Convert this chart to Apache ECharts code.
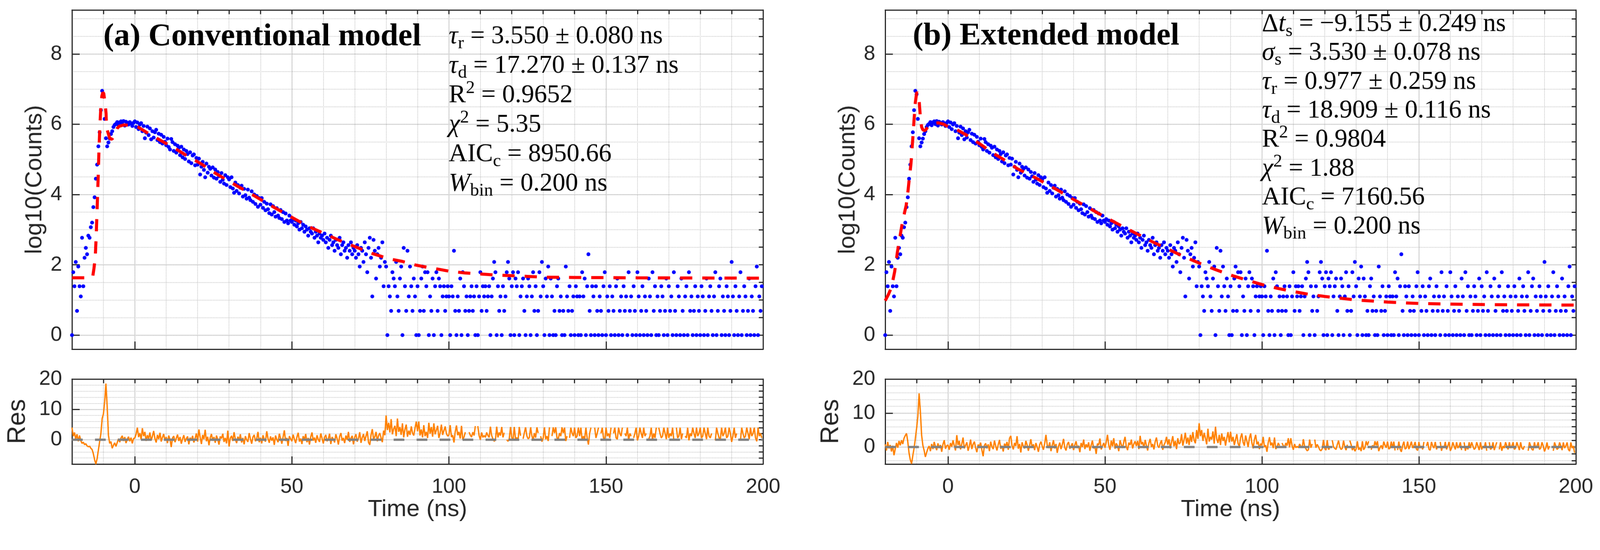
<!DOCTYPE html>
<html>
<head>
<meta charset="utf-8">
<title>Fluorescence decay fits</title>
<script src="https://cdn.jsdelivr.net/npm/echarts@6/dist/echarts.min.js"></script>
<style>
    html, body { margin: 0; padding: 0; background: #ffffff; overflow: hidden; }
    #wrap { width: 4179px; height: 1408px; transform-origin: 0 0; }
    #chart { width: 4179px; height: 1408px; }
</style>
</head>
<body>
<div id="wrap"><div id="chart"></div></div>
<script>
// histogram bins (ns): first bin and spacing of the plotted points
const binStart = -20;
const binStep = 0.4;

// plotted count values per bin (same measurement in both panels)
const logCounts = [
    0, 1.79, 1.39, 2.08, 0.69, 1.95, 1.39, 1.10, 2.77, 1.39, 2.20, 2.48, 2.30, 2.83, 2.77, 3.07, 3.20, 3.64, 3.92, 4.45, 4.85, 5.37, 5.77, 6.40, 6.95,
    6.85, 6.15, 5.60, 5.37, 5.48, 5.59, 5.72, 5.80, 5.92, 5.98, 6.01, 6.06, 5.97, 6.05, 6.08, 6.00, 6.09, 5.96, 6.07, 6.03, 5.99, 6.06, 6.02, 5.95, 6.04,
    6.08, 5.92, 6.05, 5.86, 5.99, 6.03, 5.80, 5.95, 5.60, 5.76, 5.93, 5.69, 5.88, 5.57, 5.80, 5.62, 5.77, 5.84, 5.55, 5.73, 5.49, 5.70, 5.45, 5.64, 5.50,
    5.40, 5.59, 5.35, 5.28, 5.58, 5.49, 5.24, 5.43, 5.19, 5.39, 5.33, 5.12, 5.36, 5.06, 5.28, 5.01, 5.24, 5.15, 4.94, 5.20, 4.89, 5.11, 5.14, 4.83, 5.04,
    4.85, 5.02, 4.57, 4.79, 4.93, 4.70, 4.49, 4.88, 4.62, 4.79, 4.73, 4.54, 4.77, 4.48, 4.71, 4.45, 4.64, 4.52, 4.36, 4.61, 4.42, 4.31, 4.55, 4.27, 4.49,
    4.43, 4.21, 4.49, 4.17, 4.05, 4.34, 4.10, 4.27, 4.03, 4.19, 4.25, 3.94, 4.16, 3.98, 3.88, 4.14, 3.91, 3.84, 4.09, 3.79, 4.00, 3.73, 3.96, 3.65, 3.90,
    3.71, 3.90, 3.62, 3.79, 3.55, 3.74, 3.58, 3.47, 3.72, 3.43, 3.67, 3.50, 3.37, 3.61, 3.40, 3.33, 3.56, 3.30, 3.50, 3.22, 3.46, 3.26, 3.18, 3.40, 3.26,
    3.22, 3.30, 3.14, 3.26, 3.09, 3.18, 3.00, 3.22, 3.04, 3.14, 2.94, 3.09, 3.00, 2.83, 3.04, 2.94, 2.89, 3.04, 2.77, 2.94, 2.83, 2.64, 2.89, 2.77, 2.83,
    2.71, 2.89, 2.64, 2.77, 2.48, 2.71, 2.83, 2.56, 2.64, 2.40, 2.71, 2.56, 2.48, 2.77, 2.30, 2.56, 2.64, 2.40, 2.48, 2.20, 2.56, 2.40, 2.64, 2.30, 2.48,
    2.40, 2.20, 2.56, 2.30, 1.95, 2.48, 2.40, 2.08, 2.64, 2.30, 1.79, 2.48, 2.77, 2.20, 1.10, 2.71, 2.40, 1.61, 2.30, 2.48, 1.95, 2.20, 2.64, 1.39, 2.08,
    1.95, 0, 1.39, 1.10, 0.69, 1.79, 1.61, 1.39, 2.08, 1.10, 0.69, 1.61, 1.95, 0, 2.48, 1.39, 0.69, 2.40, 1.10, 1.95, 1.39, 0.69, 1.61, 1.10, 0,
    1.39, 0, 0.69, 1.61, 1.95, 0.69, 1.79, 1.39, 1.79, 0, 1.10, 0.69, 1.61, 0, 1.39, 1.79, 0.69, 1.61, 1.39, 0, 1.10, 1.39, 0.69, 1.10, 1.39,
    1.10, 0, 1.39, 1.10, 2.40, 0.69, 0, 1.10, 0.69, 1.61, 0, 1.79, 1.39, 0.69, 1.10, 0, 0.69, 1.10, 1.39, 0.69, 1.10, 0, 1.39, 0, 1.10,
    1.79, 0.69, 1.39, 1.10, 1.39, 0.69, 1.10, 1.39, 0, 1.10, 1.61, 2.08, 1.79, 0, 1.39, 0.69, 1.10, 0, 1.39, 0.69, 1.10, 1.79, 2.08, 1.61, 0,
    1.39, 1.79, 0, 1.61, 1.39, 1.79, 0, 1.10, 1.39, 1.61, 0.69, 0, 1.10, 1.61, 1.39, 0, 1.10, 1.79, 0.69, 1.39, 0, 0.69, 1.79, 1.10, 2.08,
    1.39, 0, 1.61, 1.10, 1.95, 0, 1.61, 1.10, 0, 0.69, 0, 1.39, 1.61, 0.69, 1.10, 0, 0.69, 0, 1.95, 1.10, 0.69, 1.39, 0, 0.69, 1.10,
    0, 1.39, 1.10, 0, 1.10, 0, 1.79, 1.10, 1.61, 0, 1.39, 2.30, 0.69, 0, 1.39, 1.10, 0, 1.39, 0.69, 0, 1.10, 0.69, 0, 1.39, 1.79,
    0, 1.10, 0.69, 1.39, 0, 1.10, 0.69, 0, 1.39, 1.61, 0, 0.69, 1.10, 0, 1.39, 0.69, 1.10, 0, 1.79, 0.69, 1.10, 0, 1.39, 0.69, 0,
    1.79, 1.10, 0, 0.69, 1.39, 0, 1.10, 0.69, 0, 1.61, 1.10, 0, 1.79, 0.69, 1.39, 0, 1.10, 0, 0.69, 1.39, 1.10, 0, 0.69, 1.61, 0,
    1.39, 0.69, 1.10, 0, 1.79, 0.69, 0, 1.39, 1.10, 0, 1.61, 0.69, 0, 1.10, 1.39, 0, 1.79, 0.69, 1.10, 0, 0.69, 1.39, 0, 1.10, 0.69,
    0, 1.39, 1.10, 0, 0.69, 1.61, 0, 1.10, 1.39, 0.69, 0, 1.10, 1.79, 0, 0.69, 1.39, 1.61, 0, 1.10, 0.69, 0, 1.39, 1.10, 0, 0.69,
    2.08, 1.10, 0, 1.39, 0.69, 0, 1.10, 1.79, 0, 0.69, 1.39, 1.10, 0, 0.69, 1.61, 0, 1.10, 0.69, 0, 1.39, 1.95, 0, 1.10, 0.69, 1.39
];

// residuals per bin, null = empty bin (line broken there)
const residualA = [
    4.0, 1.2, 2.4, 0.2, 1.8, -0.5, 1.4, -0.3, -1.2, -0.8, -1.6, -1.3, -2.0, -2.3, -2.1, -2.8, -3.2, -4.6, -6.6, -8.0, -6.2, -3.4, -0.6, 2.0, 7.0,
    8.5, 12.5, 18.5, 11.0, 1.5, -1.2, -0.6, -2.8, -1.8, -1.0, -2.2, -0.9, 0.3, -0.8, 0.6, 1.3, -0.4, 0.9, -1.1, 0.2, 1.0, -0.5, 0.7, -1.2, 0.4,
    0.6, 1.8, 4.0, 0.9, 2.2, 0.1, 3.8, 1.2, 2.6, -0.4, 1.5, 0.3, 2.4, -0.2, 1.1, 2.9, 0.4, -0.9, 1.6, 0.2, 2.3, -0.6, 0.8, 1.9, -0.3,
    0.9, -1.1, 1.4, 0.1, -2.4, 0.6, 1.2, -0.8, 0.5, 1.7, -0.4, 0.9, -1.3, 0.3, 1.5, -0.7, 0.4, 1.1, -1.5, 0.7, -0.2, 1.3, -0.9, 0.5, 2.1,
    -0.6, 3.4, 0.8, -1.4, 1.6, 0.2, 3.3, -0.5, 1.0, -1.8, 0.7, 1.9, -0.3, 0.9, -1.0, 1.4, 0.1, -1.6, 1.1, 0.4, 2.0, -0.7, 0.6, -1.2, 3.0,
    -2.2, 0.5, 1.3, -0.4, 2.5, 0.2, -1.1, 1.0, -0.2, 1.8, -0.9, 0.6, -1.5, 1.2, 0.0, -0.7, 2.2, 0.3, -1.3, 0.9, 1.6, -0.5, 0.4, 2.6, -0.8,
    0.7, -1.2, 1.5, 0.2, -0.6, 2.8, 0.4, -1.0, 1.1, -0.3, 0.8, -1.7, 1.4, 0.1, -0.8, 2.0, 0.5, -1.3, 0.9, 3.1, -0.4, 0.6, -2.0, 1.2, 0.3,
    -0.5, 1.7, 0.2, -1.1, 0.9, 2.3, -0.6, 0.4, -1.4, 1.2, 0.0, 1.9, -0.8, 0.6, -1.6, 1.0, 2.4, -0.3, 0.7, -1.0, 1.5, 0.1, -0.7, 2.1, 0.5,
    -1.2, 0.8, 1.6, -0.5, 0.3, 2.0, -1.4, 0.9, 0.2, -0.9, 1.8, 0.4, -1.6, 1.1, 2.2, -0.3, 0.6, -1.1, 1.4, 0.0, 2.6, -0.7, 0.5, 1.3, -1.5,
    0.9, 1.8, -0.6, 0.4, 2.5, -1.0, 0.7, 1.9, -0.4, 1.2, 2.8, -0.9, -1.7, 1.6, 3.5, 0.2, 1.0, 2.6, -0.5, 1.4, 2.2, 0.6, -0.8, 3.0, 1.5,
    8.0, 3.2, 5.6, 2.4, 6.8, 1.8, 3.6, 4.6, 1.2, 7.0, 2.6, 4.2, 1.6, 5.4, 0.8, 3.4, 5.0, 1.0, 3.0, 1.6, 4.4, 2.2, 1.4, 3.8, 6.0,
    2.8, 6.0, 1.4, 3.4, 0.8, 4.8, 1.2, 2.6, 0.6, 5.6, 2.0, 4.2, 1.0, 5.4, 1.8, 3.2, 4.6, 0.6, 2.2, 5.0, 1.6, 3.0, 4.4, 2.0, 1.2,
    1.6, 4.8, 0.9, 1.5, -0.9, 2.6, 4.7, 1.5, 2.6, 0.4, 4.6, 0.1, 0.9, 2.5, null, null, 2.5, 1.5, 0.9, 2.5, 1.4, 4.5, null, 4.5, 1.4,
    0.0, 2.4, 0.8, 1.4, 0.8, 2.4, 1.4, 0.8, 4.3, 1.4, 0.3, -0.5, 0.0, 4.3, 0.8, 2.4, 1.4, 4.2, 0.8, 2.3, null, 0.0, -0.5, 0.3, 4.2,
    0.7, -0.1, 4.2, 0.3, 0.7, -0.1, 4.2, 1.3, null, 0.3, 2.3, 4.1, 1.3, 0.3, 0.7, 4.1, 1.3, -0.1, 2.2, 0.7, 4.1, 2.2, null, 1.2, -0.6,
    0.6, 4.1, 0.2, 1.2, -0.4, 4.1, null, 1.2, 4.1, 2.2, 4.1, 0.6, 0.2, 2.2, 1.2, 4.1, 2.2, 4.0, -0.4, 1.2, null, 0.6, 4.0, 2.2, 1.2,
    4.0, 0.6, 1.2, 4.0, 1.2, 4.0, -0.2, 1.2, 0.2, 4.0, 0.6, -1.6, 2.1, 4.0, null, null, 4.0, 0.6, 2.1, 4.0, null, 2.1, 4.0, 0.6, -0.2,
    4.0, 1.2, 2.1, 0.6, 4.0, null, 2.1, 4.0, 0.6, 0.2, 4.0, 2.1, 1.2, 4.0, null, 2.1, 1.2, 4.0, -0.2, 2.1, 1.2, null, 0.6, 2.1, 4.0,
    -0.2, 1.2, 4.0, 2.1, 0.6, 4.0, 1.2, 2.1, null, 0.2, 1.2, 4.0, -0.2, 2.1, 0.6, 4.0, null, 4.0, 2.1, 0.6, 1.2, 4.0, 2.1, 0.2, 4.0,
    0.6, 2.1, 1.2, 4.0, -0.2, null, 4.0, 0.6, 1.2, 4.0, 0.2, 2.1, null, 1.2, 0.6, 4.0, -0.2, 2.1, 1.2, 4.0, 2.1, 0.6, 4.0, 1.2, 2.1,
    4.0, 0.6, 1.2, 4.0, 2.1, 0.2, 4.0, 1.2, 0.6, 2.1, null, null, -0.2, 4.0, 2.1, 0.6, 0.2, 4.0, 1.2, 2.1, 4.0, 0.6, 1.2, 4.0, 2.1,
    -0.7, 1.2, 4.0, 0.6, 2.1, null, null, -0.2, 4.0, 2.1, 0.6, 1.2, 4.0, 2.1, 0.2, 4.0, 1.2, 2.1, 4.0, 0.6, -0.5, 4.0, 1.2, 2.1, 0.6
];

const residualB = [
    0.8, -1.0, 1.5, -0.4, 0.6, -1.3, 0.4, -2.4, -0.6, 1.2, -0.2, 1.8, 0.5, 2.0, 0.9, 2.6, 3.4, 4.0, 1.5, -1.8, -3.8, -4.9, -2.5, -0.3, 2.5,
    5.5, 9.0, 15.8, 10.5, 3.5, 0.5, -1.0, -2.9, -1.6, -0.4, 0.3, -1.2, 0.9, -0.6, 1.5, 0.2, -0.9, 1.1, -0.3, 0.6, -1.4, 0.8, 2.0, -0.5, 0.4,
    0.6, -0.8, 1.2, 0.1, 2.0, 0.4, -1.0, 3.5, 0.6, 1.8, -0.7, 0.9, 2.8, -0.4, 0.5, 1.4, -1.1, 0.3, 2.2, -0.6, 0.8, 1.6, -0.2, -1.5, 0.7,
    0.2, 1.3, -0.9, -2.7, 0.5, 1.1, -0.4, 0.8, -1.2, 1.6, 0.1, -0.6, 1.9, 0.3, -1.0, 0.7, 2.1, -0.5, 0.4, -1.3, 1.0, 0.2, 1.5, -0.8, 2.6,
    3.3, 0.4, -0.7, 1.2, 0.3, 3.2, -0.5, 0.9, -1.6, 1.4, 0.2, -0.4, 1.8, 0.6, -1.1, 0.5, 2.3, -0.2, 0.8, -0.9, 1.2, 0.0, -1.4, 0.7, 1.6,
    0.3, -0.8, 1.1, 3.6, 0.6, -0.3, 1.4, -1.2, 0.5, 2.0, -0.4, 0.9, -1.7, 0.2, 1.3, -0.6, 0.7, 2.4, -0.2, -1.0, 0.8, 1.5, -0.5, 0.3, 1.1,
    -0.9, 0.6, 1.7, -0.3, 0.4, -1.5, 1.2, 0.0, 2.2, -0.6, 0.8, -0.1, 1.4, -1.1, 0.5, 1.9, -0.4, 0.2, -2.0, 1.0, 0.6, 2.5, -0.7, 0.3, 1.2,
    -0.2, 1.4, 3.6, 0.5, -0.8, 1.9, 0.2, 2.6, -0.5, 1.1, 0.4, -1.2, 2.0, 0.7, -0.3, 1.5, 3.0, 0.1, -0.9, 1.3, 0.6, 2.2, -0.4, 0.9, 1.7,
    0.3, 1.8, -0.6, 3.3, 0.8, 1.5, -0.3, 2.1, 0.5, -1.0, 1.2, 2.4, 0.0, 0.9, -0.7, 1.6, 2.8, 0.4, -0.2, 1.1, 2.0, -0.8, 0.6, 1.4, 3.0,
    0.7, 2.3, -0.4, 1.5, 3.2, 0.2, 1.8, -0.6, 2.6, 0.9, 1.3, 3.8, 0.4, 2.1, 4.2, 1.0, 2.8, 0.6, 3.6, 1.5, 4.4, 2.0, 1.1, 5.0, 2.4,
    7.0, 3.2, 5.0, 1.8, 4.2, 2.6, 0.8, 5.4, 1.6, 3.0, 2.2, 4.6, 1.0, 6.0, 2.4, 1.2, 3.6, 0.6, 4.0, 1.8, 3.0, 0.4, 2.6, 4.4, 1.4,
    4.5, 1.6, 3.0, 0.6, 2.2, 3.8, 1.0, 0.2, 2.8, 4.0, 1.4, 0.4, 3.4, 1.8, 0.0, 2.6, 4.0, 1.2, -0.4, 2.2, 3.6, 0.8, 1.6, -0.6, 1.0,
    0.5, 3.0, 0.0, 0.5, -1.4, 1.3, 2.9, 0.5, 1.3, -0.3, 2.8, -0.6, 0.0, 1.2, 0.4, null, 1.2, 0.4, -0.1, 1.2, 0.4, 2.6, -0.1, 2.6, 0.4,
    -0.8, 0.9, -0.2, 0.2, -0.2, 0.9, 0.2, -0.2, 2.3, 0.2, -0.5, -1.1, -0.8, 2.2, -0.2, 0.9, null, 2.2, -0.2, 0.8, 0.1, -0.8, -1.1, -0.5, 2.1,
    -0.4, -0.9, 2.0, -0.7, -0.4, null, 2.0, 0.0, -0.4, -0.7, 0.7, 1.9, 0.0, -0.7, -0.4, 1.9, 0.0, -0.9, 0.7, null, 1.9, 0.7, -0.9, 0.0, -1.2,
    -0.6, 1.7, -0.8, -0.2, -1.2, 1.7, -0.8, -0.2, 1.7, 0.5, 1.7, null, -0.8, 0.5, -0.2, 1.7, 0.5, 1.7, -1.2, -0.2, 0.5, -0.6, 1.6, 0.5, -0.2,
    1.6, -0.6, -0.3, 1.6, -0.3, 1.6, -1.0, null, -0.9, 1.6, -0.6, -1.4, 0.4, 1.6, -0.6, -0.3, 1.6, -0.6, 0.4, 1.6, -0.3, 0.4, 1.5, -0.6, -1.0,
    1.5, -0.3, 0.3, -0.7, 1.5, null, 0.3, 1.5, -0.7, -0.9, 1.5, 0.3, -0.3, 1.5, -0.7, 0.3, null, 1.5, -1.1, 0.3, -0.3, 1.5, -0.7, 0.3, 1.5,
    -1.1, -0.3, 1.4, 0.3, -0.7, 1.4, -0.3, 0.3, 1.4, -0.9, null, 1.4, -1.1, 0.3, -0.7, 1.4, -0.3, 1.4, 0.3, -0.7, -0.3, 1.4, 0.3, -0.9, 1.4,
    -0.7, 0.3, -0.3, 1.4, -1.1, null, 1.4, -0.7, -0.3, 1.4, -0.9, 0.3, 1.4, null, -0.7, 1.4, -1.1, 0.3, -0.3, 1.4, 0.3, -0.7, 1.4, -0.3, 0.3,
    1.4, -0.7, -0.3, 1.4, 0.3, -0.9, 1.4, -0.3, -0.7, 0.3, null, null, -1.1, 1.4, 0.3, -0.7, -0.9, 1.4, -0.3, 0.3, 1.4, -0.7, -0.3, 1.4, 0.3,
    -1.3, -0.3, 1.35, -0.7, 0.3, null, null, -1.1, 1.35, 0.3, -0.7, -0.3, 1.35, 0.3, -0.9, 1.35, -0.3, 0.3, 1.35, -0.7, -1.2, 1.35, -0.3, 0.3, -1.7
];

// fitted curves, [time ns, value]
const fitA = [
    [-20, 1.63], [-14, 1.63], [-13.4, 1.66], [-13.0, 1.9], [-12.6, 2.2], [-12.3, 2.8], [-12.0, 3.6], [-11.7, 4.4],
    [-11.4, 5.3], [-11.1, 6.0], [-10.8, 6.5], [-10.5, 6.8], [-10.2, 6.9], [-9.9, 6.88], [-9.5, 6.62], [-9.15, 6.3],
    [-9.0, 5.9], [-8.0, 5.6], [-7.3, 5.57], [-6.5, 5.68], [-5.6, 5.88], [-5, 5.94], [-3.5, 5.98], [-2, 5.97],
    [0, 5.95], [1, 5.92], [4.6, 5.72], [9, 5.5], [12.8, 5.31], [17, 5.08], [21, 4.88], [25, 4.64], [29, 4.43],
    [33, 4.22], [37, 4.02], [40, 3.86], [45, 3.6], [50, 3.35], [55, 3.1], [60, 2.9], [65, 2.7], [70, 2.52],
    [76, 2.31], [81, 2.17], [85, 2.1], [89, 2.0], [93, 1.93], [97, 1.87], [100, 1.82], [105, 1.77], [110, 1.74],
    [115, 1.71], [120, 1.69], [125, 1.67], [130, 1.65], [140, 1.64], [160, 1.63], [200, 1.62]
];

const fitB = [
    [-20, 0.98], [-19, 1.15], [-18, 1.36], [-17, 1.8], [-16.1, 2.37], [-15.3, 2.8], [-14.5, 3.22], [-13.3, 3.7],
    [-12.8, 4.05], [-12.4, 4.39], [-11.8, 4.87], [-11.2, 5.61], [-10.8, 6.14], [-10.4, 6.62], [-10.0, 6.88],
    [-9.8, 6.91], [-9.5, 6.85], [-9.2, 6.68], [-8.8, 6.2], [-8.4, 5.92], [-8.0, 5.84], [-7.3, 5.82], [-6.3, 5.93],
    [-4.7, 6.01], [-3.1, 6.04], [-1.4, 6.0], [0, 5.93], [2.7, 5.85], [5.9, 5.69], [10, 5.45], [14.1, 5.19],
    [18.2, 4.97], [22.2, 4.73], [28, 4.47], [30, 4.37], [35, 4.12], [40, 3.86], [45, 3.61], [50, 3.36], [55, 3.12],
    [60, 2.89], [65, 2.66], [70, 2.45], [75, 2.24], [80, 2.05], [85, 1.87], [90, 1.71], [95, 1.57], [100, 1.44],
    [105, 1.33], [110, 1.24], [115, 1.16], [120, 1.10], [130, 1.0], [140, 0.94], [150, 0.9], [165, 0.875],
    [180, 0.862], [200, 0.854]
];

const zeroLevel = [[-20, 0], [200, 0]];

const xTickLabels = [0, 50, 100, 150, 200];
const yMainTickLabels = [0, 2, 4, 6, 8];
const yResTickLabels = [0, 10, 20];

const titles = ['(a) Conventional model', '(b) Extended model'];
const statsA = [
    '{it|τ}{sub|r}{rm| = 3.550 ± 0.080 ns}',
    '{it|τ}{sub|d}{rm| = 17.270 ± 0.137 ns}',
    '{rm|R}{sup|2}{rm| = 0.9652}',
    '{it|χ}{sup|2}{rm| = 5.35}',
    '{rm|AIC}{sub|c}{rm| = 8950.66}',
    '{it|W}{sub|bin}{rm| = 0.200 ns}'
];
const statsB = [
    '{rm|Δ}{it|t}{sub|s}{rm| = −9.155 ± 0.249 ns}',
    '{it|σ}{sub|s}{rm| = 3.530 ± 0.078 ns}',
    '{it|τ}{sub|r}{rm| = 0.977 ± 0.259 ns}',
    '{it|τ}{sub|d}{rm| = 18.909 ± 0.116 ns}',
    '{rm|R}{sup|2}{rm| = 0.9804}',
    '{it|χ}{sup|2}{rm| = 1.88}',
    '{rm|AIC}{sub|c}{rm| = 7160.56}',
    '{it|W}{sub|bin}{rm| = 0.200 ns}'
];

const ink = '#262626';
const sans = "'Liberation Sans', Arial, sans-serif";
const serif = "'Liberation Serif', 'Times New Roman', serif";

// keep the 4179x1408 drawing inside whatever viewport we get
const fitScale = Math.min(window.innerWidth / 4179, window.innerHeight / 1408);
if (Math.abs(fitScale - 1) > 0.002) {
    document.getElementById('wrap').style.transform = 'scale(' + fitScale + ')';
}

const binTime = i => Math.round((binStart + i * binStep) * 10) / 10;
const scatterPoints = logCounts.map((v, i) => [binTime(i), v]);
const residualPoints = arr => arr.map((v, i) => [binTime(i), v === null ? '-' : v]);

// layout of the four axes boxes (pixels)
const panelLeft = [188, 2312];
const panelWidth = [1805, 1804];
const rowTop = [26, 990];
const rowHeight = [886, 222];

// per box: y range, split numbers for major/minor ticks, label list, name
const boxes = [
    { ymin: -0.4, ymax: 9.25, major: 5, minor: 19, labels: yMainTickLabels, name: 'log10(Counts)', nameGap: 66, nameSize: 62 },
    { ymin: -8, ymax: 20, major: 3, minor: 14, labels: yResTickLabels, name: 'Res', nameGap: 108, nameSize: 66 },
    { ymin: -0.4, ymax: 9.25, major: 5, minor: 19, labels: yMainTickLabels, name: 'log10(Counts)', nameGap: 66, nameSize: 62 },
    { ymin: -5, ymax: 20, major: 3, minor: 12, labels: yResTickLabels, name: 'Res', nameGap: 108, nameSize: 66 }
];

const grids = [];
const xAxes = [];
const yAxes = [];

boxes.forEach((b, g) => {
    const panel = Math.floor(g / 2);
    const row = g % 2;
    grids.push({
        left: panelLeft[panel], width: panelWidth[panel],
        top: rowTop[row], height: rowHeight[row],
        containLabel: false, outerBoundsMode: 'none'
    });
    const lineStyle = { color: ink, width: 3 };
    const labelFont = { fontFamily: sans, fontSize: 54, color: ink };
    // bottom: major ticks every 50 ns, solid grid
    xAxes.push({
        type: 'value', gridIndex: g, position: 'bottom', min: -20, max: 200, splitNumber: 5,
        axisLine: { show: true, onZero: false, lineStyle },
        axisTick: { show: true, inside: true, length: 20, lineStyle },
        axisLabel: {
            show: row === 1, margin: 33, ...labelFont,
            formatter: v => (xTickLabels.includes(v) ? String(v) : '')
        },
        splitLine: { show: true, lineStyle: { color: '#dedede', width: 2.5, type: 'solid' } },
        name: row === 1 ? 'Time (ns)' : '', nameLocation: 'middle', nameGap: 83,
        nameTextStyle: { fontFamily: sans, fontSize: 62, color: ink }
    });
    // top: minor ticks every 10 ns, dotted grid
    xAxes.push({
        type: 'value', gridIndex: g, position: 'top', min: -20, max: 200, interval: 10,
        axisLine: { show: true, onZero: false, lineStyle },
        axisTick: { show: true, inside: true, length: 11, lineStyle },
        axisLabel: { show: false },
        splitLine: { show: true, lineStyle: { color: '#c4c4c4', width: 2, type: 'dotted' } }
    });
    yAxes.push({
        type: 'value', gridIndex: g, position: 'left', min: b.ymin, max: b.ymax, splitNumber: b.major,
        axisLine: { show: true, onZero: false, lineStyle },
        axisTick: { show: true, inside: true, length: 20, lineStyle },
        axisLabel: {
            show: true, margin: 26, ...labelFont,
            formatter: v => (b.labels.includes(v) ? String(v) : '')
        },
        splitLine: { show: true, lineStyle: { color: '#dedede', width: 2.5, type: 'solid' } },
        name: b.name, nameLocation: 'middle', nameGap: b.nameGap, nameRotate: 90,
        nameTextStyle: { fontFamily: sans, fontSize: b.nameSize, color: ink }
    });
    yAxes.push({
        type: 'value', gridIndex: g, position: 'right', min: b.ymin, max: b.ymax, splitNumber: b.minor,
        axisLine: { show: true, onZero: false, lineStyle },
        axisTick: { show: true, inside: true, length: 11, lineStyle },
        axisLabel: { show: false },
        splitLine: { show: true, lineStyle: { color: '#c4c4c4', width: 2, type: 'dotted' } }
    });
});

const series = [];
[fitA, fitB].forEach((fit, p) => {
    const gMain = p * 2;
    const gRes = p * 2 + 1;
    series.push({
        type: 'scatter', xAxisIndex: gMain * 2, yAxisIndex: gMain * 2,
        data: scatterPoints, symbol: 'circle', symbolSize: 10,
        itemStyle: { color: '#0000ff', opacity: 1 }, z: 3, silent: true
    });
    series.push({
        type: 'line', xAxisIndex: gMain * 2, yAxisIndex: gMain * 2,
        data: fit, symbol: 'none', smooth: false,
        lineStyle: { color: '#ff0000', width: 8, type: [32, 26], cap: 'butt' }, z: 4, silent: true
    });
    series.push({
        type: 'line', xAxisIndex: gRes * 2, yAxisIndex: gRes * 2,
        data: residualPoints(p === 0 ? residualA : residualB), symbol: 'none', connectNulls: false,
        lineStyle: { color: '#ff8000', width: 3.5 }, z: 3, silent: true
    });
    series.push({
        type: 'line', xAxisIndex: gRes * 2, yAxisIndex: gRes * 2,
        data: zeroLevel, symbol: 'none',
        lineStyle: { color: '#808080', width: 6, type: [28, 32], cap: 'butt' }, z: 5, silent: true
    });
});

const rich = {
    rm: { fontFamily: serif, fontSize: 67, lineHeight: 84, fill: '#000' },
    it: { fontFamily: serif, fontSize: 67, fontStyle: 'italic', lineHeight: 84, fill: '#000' },
    sub: { fontFamily: serif, fontSize: 47, lineHeight: 50, verticalAlign: 'bottom', fill: '#000' },
    sup: { fontFamily: serif, fontSize: 47, lineHeight: 46, verticalAlign: 'top', fill: '#000' }
};

const graphic = [];
const titleX = [270, 2384];
const titleBase = [125, 123];
titles.forEach((t, p) => {
    graphic.push({
        type: 'text', x: titleX[p], y: titleBase[p] - 28, z: 50, silent: true,
        style: { text: t, fontFamily: serif, fontSize: 83, fontWeight: 'bold', fill: '#000', verticalAlign: 'middle' }
    });
});
statsA.forEach((s, k) => {
    graphic.push({
        type: 'text', x: 1172, y: 118 + 77 * k - 65, z: 50, silent: true,
        style: { text: s, rich, verticalAlign: 'top' }
    });
});
statsB.forEach((s, k) => {
    graphic.push({
        type: 'text', x: 3296, y: 86 + 75.6 * k - 65, z: 50, silent: true,
        style: { text: s, rich, verticalAlign: 'top' }
    });
});

const chart = echarts.init(document.getElementById('chart'), null, { renderer: 'canvas' });
chart.setOption({
    animation: false,
    backgroundColor: '#ffffff',
    grid: grids,
    xAxis: xAxes,
    yAxis: yAxes,
    series,
    graphic
});
</script>
</body>
</html>
